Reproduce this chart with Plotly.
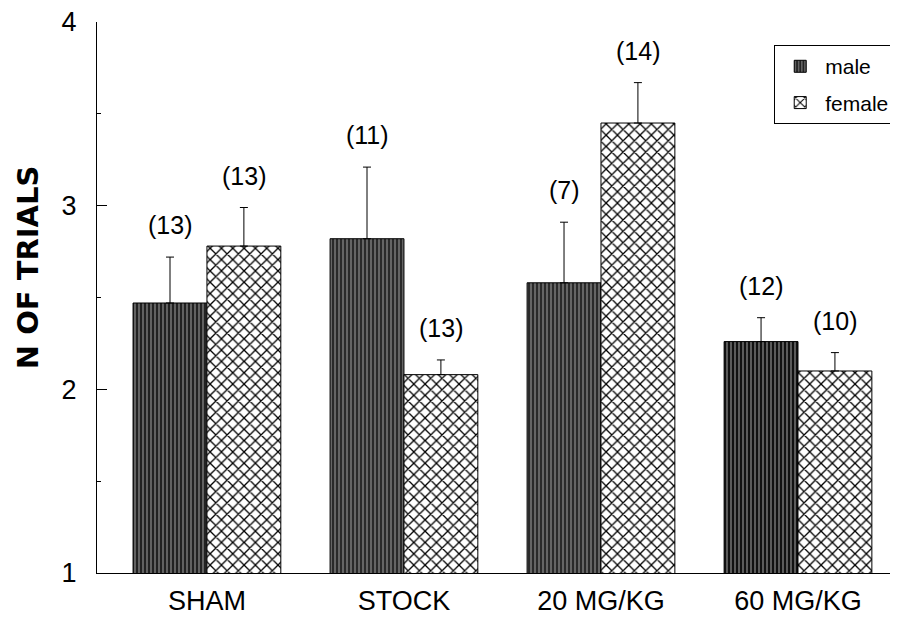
import plotly.graph_objects as go

categories = ["SHAM", "STOCK", "20 MG/KG", "60 MG/KG"]
male_mean = [2.47, 2.82, 2.58, 2.26]
male_err = [0.25, 0.39, 0.33, 0.13]
male_n = ["(13)", "(11)", "(7)", "(12)"]
female_mean = [2.78, 2.08, 3.45, 2.10]
female_err = [0.21, 0.08, 0.22, 0.10]
female_n = ["(13)", "(13)", "(14)", "(10)"]
y_title = "N OF TRIALS"

FONT = "Liberation Sans, Arial, Helvetica, sans-serif"
BARGAP = 0.25

male_bg = ["#222222", "#2a2a2a", "#2a2a2a", "#111111"]

fig = go.Figure()
fig.add_trace(go.Bar(
    name="male", x=categories, y=male_mean, legendgroup="m",
    marker=dict(
        color="#2a2a2a",
        line=dict(color="black", width=1),
        pattern=dict(shape="|", fillmode="replace", bgcolor=male_bg,
                     fgcolor="#8c8c8c", size=4, solidity=0.3),
    ),
    error_y=dict(type="data", symmetric=False, array=male_err,
                 arrayminus=[0] * len(male_err), color="black",
                 thickness=1, width=4),
))
fig.add_trace(go.Bar(
    name="female", x=categories, y=female_mean, legendgroup="f",
    marker=dict(
        color="white",
        line=dict(color="black", width=1),
        pattern=dict(shape="x", fillmode="replace", bgcolor="white",
                     fgcolor="black", size=8, solidity=0.3),
    ),
    error_y=dict(type="data", symmetric=False, array=female_err,
                 arrayminus=[0] * len(female_err), color="black",
                 thickness=1, width=4),
))

off = (1 - BARGAP) / 4
annotations = []
for i in range(len(categories)):
    for sign, mean, err, n in ((-1, male_mean, male_err, male_n),
                               (1, female_mean, female_err, female_n)):
        annotations.append(dict(
            x=i + sign * off, y=mean[i] + err[i], xref="x", yref="y",
            text=n[i], showarrow=False, yanchor="bottom", yshift=16,
            font=dict(family=FONT, size=25, color="black"),
        ))

annotations.append(dict(
    x=-0.087, y=0.555, xref="paper", yref="paper",
    text="<b>" + y_title + "</b>", textangle=-90, showarrow=False,
    xanchor="center", yanchor="middle",
    font=dict(family="DejaVu Sans, sans-serif", size=29, color="black"),
))

# The page has an 8px body margin, so the figure is drawn 8px smaller
fig.update_layout(
    width=890, height=609,
    margin=dict(l=89, r=8, t=14, b=44, autoexpand=False),
    paper_bgcolor="white", plot_bgcolor="white",
    barmode="group", bargap=BARGAP, bargroupgap=0,
    font=dict(family=FONT, color="black"),
    annotations=annotations,
    legend=dict(x=0.854, y=0.958, xanchor="left", yanchor="top",
                bordercolor="black", borderwidth=1, bgcolor="white",
                tracegroupgap=6, itemwidth=40,
                font=dict(family=FONT, size=21, color="black")),
    showlegend=True,
)
fig.update_xaxes(
    type="category", range=[-0.558, 3.467], automargin=False,
    showline=True, linecolor="black", linewidth=1,
    ticks="", showgrid=False, zeroline=False,
    ticklabelstandoff=4,
    tickfont=dict(family=FONT, size=27, color="black"),
)
fig.update_yaxes(
    range=[1, 4], dtick=1, tick0=1, automargin=False,
    showline=True, linecolor="black", linewidth=1,
    ticks="inside", ticklen=10, tickcolor="black",
    minor=dict(ticks="inside", ticklen=4, dtick=0.5, tickcolor="black", showgrid=False),
    showgrid=False, zeroline=False,
    ticklabelstandoff=14, ticklabeloverflow="allow",
    tickfont=dict(family=FONT, size=27, color="black"),
)

fig.write_html("out.html")
